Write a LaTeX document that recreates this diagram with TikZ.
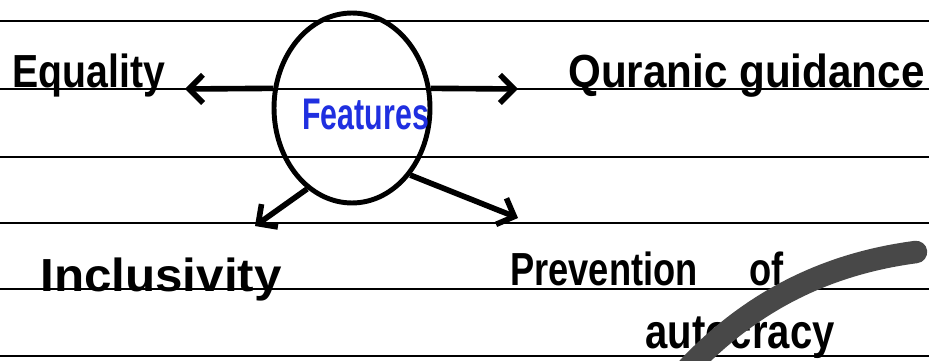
\documentclass[tikz,border=0pt]{standalone}
\usepackage{fontspec}
\setsansfont{Liberation Sans}
\usetikzlibrary{shapes.geometric,arrows.meta}
\definecolor{inkblue}{HTML}{1F2FE0}
\definecolor{marker}{HTML}{484848}
\tikzset{
	rule/.style = {line width = 1.1pt},
	pen/.style = {line width = 3.2pt, -{Straight Barb[length = 8pt, width = 16pt]}},
	word/.style = {font = \sffamily\bfseries\fontsize{24}{28}\selectfont, anchor = base west, inner sep = 0pt},
}
\begin{document}
\begin{tikzpicture}[x = 0.02cm, y = -0.02cm]
	\useasboundingbox (0,0) rectangle (929,361);
	\clip (0,0) rectangle (929,361);
	% ruled page
	\fill [white] (0,0) rectangle (929,361);
	\foreach \y in {21,89,157,223,289,356}
		\draw [rule] (0,\y) -- (929,\y);
	% centre
	\node (circ) [draw, ellipse, line width = 2.8pt, minimum width = 3.12cm, minimum height = 3.8cm, inner sep = 0pt] at (352,108) {};
	\node (feat) [word, font = \sffamily\bfseries\fontsize{18}{20}\selectfont, text = inkblue] at (302,130) {\scalebox{0.96}[1.4]{Features}};
	% labels
	\node (equ) [word] at (12,88) {\scalebox{0.93}[1.1]{Equality}};
	\node (qur) [word] at (568,88) {\scalebox{1}[1.1]{Quranic guidance}};
	\node (inc) [word] at (40,291) {\scalebox{1.17}[1.1]{Inclusivity}};
	\node (pre) [word] at (510,285) {\scalebox{0.86}[1.1]{Prevention\hspace{1.2cm}of}};
	\node (aut) [word] at (645,348) {\scalebox{0.95}[1.15]{autocracy}};
	% arrow tips
	\coordinate (equtip) at (185,89);
	\coordinate (qurtip) at (518,89);
	\coordinate (inctip) at (255,226);
	\coordinate (pretip) at (518,218);
	\draw [pen] (circ.166) -- (equtip);
	\draw [pen] (circ.14) -- (qurtip);
	\draw [pen] (circ.241) -- (inctip);
	\draw [pen] (circ.311) -- (pretip);
	% marker stroke over the page
	\draw [marker, line width = 0.45cm, line cap = round] (688,368) .. controls (760,292) and (840,262) .. (916,252);
\end{tikzpicture}
\end{document}
